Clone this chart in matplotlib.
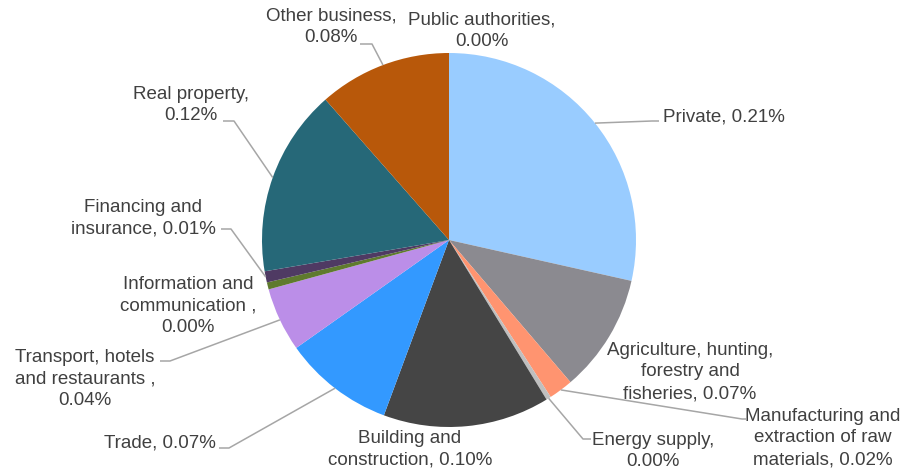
import numpy as np
import matplotlib
matplotlib.use("Agg")
import matplotlib.pyplot as plt

# ── Data ─────────────────────────────────────────────────────────────────────
categories = [
    "Private",
    "Agriculture, hunting,\nforestry and\nfisheries",
    "Manufacturing and\nextraction of raw\nmaterials",
    "Energy supply",
    "Building and\nconstruction",
    "Trade",
    "Transport, hotels\nand restaurants ",
    "Information and\ncommunication ",
    "Financing and\ninsurance",
    "Real property",
    "Other business",
    "Public authorities",
]
shares = [0.206, 0.074, 0.0152, 0.003, 0.104, 0.069, 0.040, 0.0044, 0.007, 0.117, 0.083, 0.0]
colors = ["#99CCFF", "#8B8A90", "#FF9470", "#BFBFBF", "#454545", "#3399FF",
          "#BB8EE8", "#5F7A2E", "#4F3A63", "#266878", "#B8580A", "#7F7F7F"]
# what goes between the category name and its value
separators = [" ", " ", " ", "\n", " ", " ", "\n", "\n", " ", "\n", "\n", "\n"]

# ── Layout (pixel coordinates, y measured from the top) ──────────────────────
W, H = 917, 475
CX, CY, R = 449, 240, 187
# label centre, and the leader path (elbow, end) — None means no leader line
label_pos = [
    ((724, 117), [(652, 121), (659, 121)]),
    ((690, 372), None),
    ((823, 438), [(742, 419), (746, 419)]),
    ((653, 451), [(583, 439), (591, 439)]),
    ((410, 449), None),
    ((160, 443), [(229, 448), (219, 448)]),
    ((85, 379), [(170, 361), (160, 361)]),
    ((188, 306), None),
    ((143, 218), [(231, 229), (221, 229)]),
    ((191, 105), [(234, 121), (223, 121)]),
    ((331, 27), [(372, 44), (360, 44)]),
    ((482, 31), None),
]

TEXT = "#404040"
LEADER = "#A6A6A6"


def fy(y):
    return H - y


fig = plt.figure(figsize=(W / 100, H / 100), dpi=100)
ax = fig.add_axes([0, 0, 1, 1])

wedges, _ = ax.pie(
    shares, colors=colors, startangle=90, counterclock=False,
    center=(CX, fy(CY)), radius=R,
    wedgeprops=dict(linewidth=0, antialiased=True),
)
ax.set_xlim(0, W)
ax.set_ylim(0, H)
ax.set_aspect("equal")
ax.axis("off")

for name, val, sep, w, (pos, leader) in zip(categories, shares, separators, wedges, label_pos):
    ax.text(pos[0], fy(pos[1]), f"{name},{sep}{val:.2f}%", ha="center", va="center",
            fontsize=13.5, color=TEXT, family="Liberation Sans", linespacing=1.35)
    if leader is None:
        continue
    mid = np.deg2rad((w.theta1 + w.theta2) / 2)
    xs = [CX + R * np.cos(mid)] + [p[0] for p in leader]
    ys = [fy(CY) + R * np.sin(mid)] + [fy(p[1]) for p in leader]
    ax.plot(xs, ys, color=LEADER, lw=1.1, solid_capstyle="butt")

fig.savefig("out.png", dpi=100)
